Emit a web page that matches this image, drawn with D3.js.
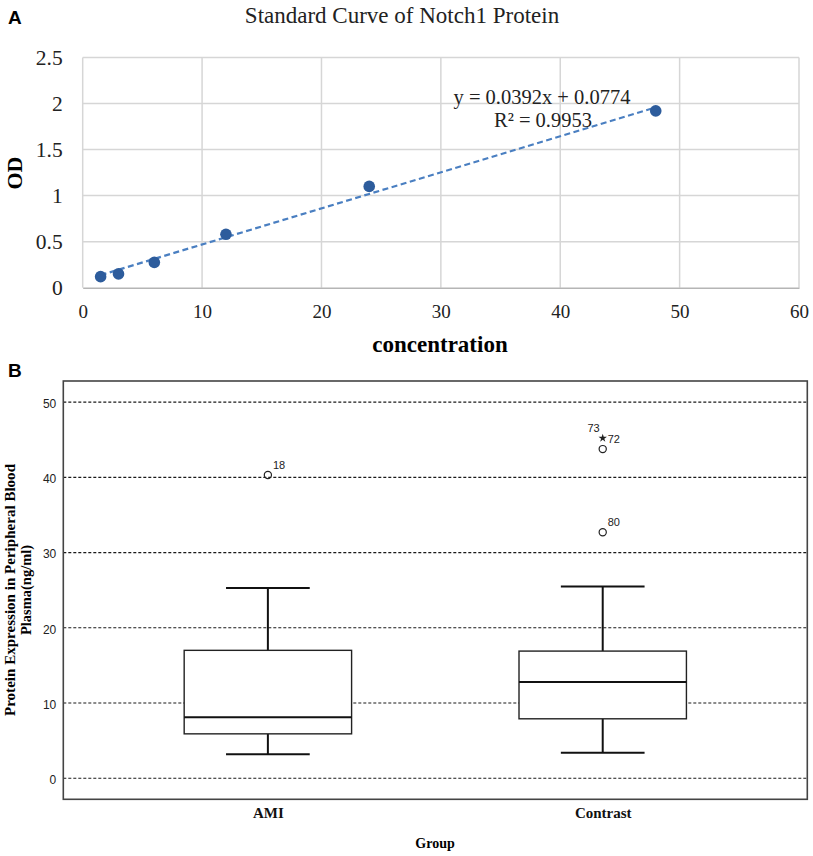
<!DOCTYPE html>
<html>
<head>
<meta charset="utf-8">
<script src="https://cdn.jsdelivr.net/npm/d3@7"></script>
<style>
  body { margin: 0; background: #fff; }
  .serif { font-family: "Liberation Serif", "Times New Roman", serif; }
  .sans { font-family: "Liberation Sans", Arial, sans-serif; }
</style>
</head>
<body>
<div id="chart"></div>
<script>
// ---- panel A data: standard curve
var concentration = [1.5, 3, 6, 12, 24, 48];
var odValues = [0.12, 0.15, 0.275, 0.58, 1.1, 1.92];
var fitSlope = 0.0392;
var fitIntercept = 0.0774;
var fitR2 = 0.9953;
var xTicksA = [0, 10, 20, 30, 40, 50, 60];
var yTicksA = [0, 0.5, 1, 1.5, 2, 2.5];

// ---- panel B data: box plot
var groups = ["AMI", "Contrast"];
var whiskerLow = [3.2, 3.4];
var q1 = [5.9, 7.9];
var median = [8.1, 12.8];
var q3 = [17.0, 16.9];
var whiskerHigh = [25.3, 25.5];
var outlierGroup = ["AMI", "Contrast", "Contrast", "Contrast"];
var outlierValue = [40.3, 32.7, 43.75, 45.2];
var outlierLabel = ["18", "80", "72", "73"];
var outlierShape = ["circle", "circle", "circle", "star"];
var yTicksB = [0, 10, 20, 30, 40, 50];

var W = 813, H = 856;
var svg = d3.select("#chart").append("svg")
  .attr("width", W)
  .attr("height", H);

// ================= Panel A =================
var xA = d3.scaleLinear().domain([0, 60]).range([82.7, 799]);
var yA = d3.scaleLinear().domain([0, 2.5]).range([287.7, 57.5]);

svg.append("text")
  .attr("class", "sans")
  .attr("x", 8).attr("y", 24)
  .style("font-size", "19px").style("font-weight", "bold")
  .text("A");

svg.append("text")
  .attr("class", "serif")
  .attr("x", 402).attr("y", 23)
  .attr("text-anchor", "middle")
  .style("font-size", "23px").attr("fill", "#222")
  .text("Standard Curve of Notch1 Protein");

// grid
svg.append("g").selectAll("line")
  .data(yTicksA.slice(1))
  .enter().append("line")
    .attr("x1", xA(0)).attr("x2", xA(60))
    .attr("y1", function(d) { return yA(d); })
    .attr("y2", function(d) { return yA(d); })
    .attr("stroke", "#d6d6d6").attr("stroke-width", 1.5);
svg.append("g").selectAll("line")
  .data(xTicksA)
  .enter().append("line")
    .attr("x1", function(d) { return xA(d); })
    .attr("x2", function(d) { return xA(d); })
    .attr("y1", yA(0)).attr("y2", yA(2.5))
    .attr("stroke", "#d6d6d6").attr("stroke-width", 1.5);

// x axis
var axA = svg.append("g")
  .attr("transform", "translate(0," + yA(0) + ")")
  .call(d3.axisBottom(xA).tickValues(xTicksA).tickSize(0).tickPadding(17));
axA.select(".domain").attr("stroke", "#b5b5b5").attr("stroke-width", 1.6);
axA.selectAll("text")
  .attr("class", "serif")
  .style("font-size", "19px").attr("fill", "#222");

var ayA = svg.append("g")
  .attr("transform", "translate(" + xA(0) + ",0)")
  .call(d3.axisLeft(yA).tickValues(yTicksA).tickSize(0).tickPadding(20)
    .tickFormat(function(d) { return d; }));
ayA.select(".domain").remove();
ayA.selectAll("text")
  .attr("class", "serif")
  .style("font-size", "21.5px").attr("fill", "#222");

// trend line
var fitX = [d3.min(concentration), d3.max(concentration)];
svg.append("line")
  .attr("x1", xA(fitX[0])).attr("y1", yA(fitSlope * fitX[0] + fitIntercept))
  .attr("x2", xA(fitX[1])).attr("y2", yA(fitSlope * fitX[1] + fitIntercept))
  .attr("stroke", "#4a7fc1").attr("stroke-width", 2.2)
  .attr("stroke-dasharray", "6,3.5");

// points
svg.append("g").selectAll("circle")
  .data(concentration)
  .enter().append("circle")
    .attr("cx", function(d) { return xA(d); })
    .attr("cy", function(d, i) { return yA(odValues[i]); })
    .attr("r", 5.8)
    .attr("fill", "#2d5c9c");

svg.append("text")
  .attr("class", "serif")
  .attr("x", 542).attr("y", 104)
  .attr("text-anchor", "middle")
  .style("font-size", "20.5px").attr("fill", "#222")
  .text("y = " + fitSlope + "x + " + fitIntercept);
svg.append("text")
  .attr("class", "serif")
  .attr("x", 543).attr("y", 127)
  .attr("text-anchor", "middle")
  .style("font-size", "20.5px").attr("fill", "#222")
  .text("R² = " + fitR2);

// axis titles
svg.append("text")
  .attr("class", "serif")
  .attr("transform", "translate(22,173) rotate(-90)")
  .attr("text-anchor", "middle")
  .style("font-size", "22px").style("font-weight", "bold")
  .text("OD");
svg.append("text")
  .attr("class", "serif")
  .attr("x", 440).attr("y", 352)
  .attr("text-anchor", "middle")
  .style("font-size", "23px").style("font-weight", "bold")
  .text("concentration");

// ================= Panel B =================
var plotL = 63.3, plotR = 807.3, plotT = 381, plotB = 799.3;
var xB = d3.scalePoint().domain(groups).range([plotL, plotR]).padding(0.611);
var yB = d3.scaleLinear().domain([-2.8, 52.8]).range([plotB, plotT]);
var step = xB.step();
var boxW = step * 0.5, capW = step * 0.25;

svg.append("text")
  .attr("class", "sans")
  .attr("x", 8).attr("y", 377)
  .style("font-size", "19px").style("font-weight", "bold")
  .text("B");

// dashed grid
svg.append("g").selectAll("line")
  .data(yTicksB)
  .enter().append("line")
    .attr("x1", plotL).attr("x2", plotR)
    .attr("y1", function(d) { return yB(d); })
    .attr("y2", function(d) { return yB(d); })
    .attr("stroke", "#1a1a1a").attr("stroke-width", 1.2)
    .attr("stroke-dasharray", "3,2");

var ayB = svg.append("g")
  .attr("transform", "translate(" + plotL + ",0)")
  .call(d3.axisLeft(yB).tickValues(yTicksB).tickSize(0).tickPadding(7));
ayB.select(".domain").remove();
ayB.selectAll("text")
  .attr("class", "sans")
  .attr("dy", "0.45em")
  .style("font-size", "12px").attr("fill", "#222");

var axB = svg.append("g")
  .attr("transform", "translate(0," + plotB + ")")
  .call(d3.axisBottom(xB).tickSize(0).tickPadding(8));
axB.select(".domain").remove();
axB.selectAll("text")
  .attr("class", "serif")
  .style("font-size", "15px").style("font-weight", "bold").attr("fill", "#111");

// boxes
var boxes = svg.append("g").selectAll("g")
  .data(groups)
  .enter().append("g");

boxes.append("line")
  .attr("x1", function(d) { return xB(d); })
  .attr("x2", function(d) { return xB(d); })
  .attr("y1", function(d, i) { return yB(whiskerHigh[i]); })
  .attr("y2", function(d, i) { return yB(q3[i]); })
  .attr("stroke", "#111").attr("stroke-width", 2);
boxes.append("line")
  .attr("x1", function(d) { return xB(d); })
  .attr("x2", function(d) { return xB(d); })
  .attr("y1", function(d, i) { return yB(q1[i]); })
  .attr("y2", function(d, i) { return yB(whiskerLow[i]); })
  .attr("stroke", "#111").attr("stroke-width", 2);
boxes.append("line")
  .attr("x1", function(d) { return xB(d) - capW / 2; })
  .attr("x2", function(d) { return xB(d) + capW / 2; })
  .attr("y1", function(d, i) { return yB(whiskerHigh[i]); })
  .attr("y2", function(d, i) { return yB(whiskerHigh[i]); })
  .attr("stroke", "#111").attr("stroke-width", 2);
boxes.append("line")
  .attr("x1", function(d) { return xB(d) - capW / 2; })
  .attr("x2", function(d) { return xB(d) + capW / 2; })
  .attr("y1", function(d, i) { return yB(whiskerLow[i]); })
  .attr("y2", function(d, i) { return yB(whiskerLow[i]); })
  .attr("stroke", "#111").attr("stroke-width", 2);
boxes.append("rect")
  .attr("x", function(d) { return xB(d) - boxW / 2; })
  .attr("width", boxW)
  .attr("y", function(d, i) { return yB(q3[i]); })
  .attr("height", function(d, i) { return yB(q1[i]) - yB(q3[i]); })
  .attr("fill", "#fff").attr("stroke", "#222").attr("stroke-width", 1.4);
boxes.append("line")
  .attr("x1", function(d) { return xB(d) - boxW / 2; })
  .attr("x2", function(d) { return xB(d) + boxW / 2; })
  .attr("y1", function(d, i) { return yB(median[i]); })
  .attr("y2", function(d, i) { return yB(median[i]); })
  .attr("stroke", "#111").attr("stroke-width", 2);

// outliers
var outs = svg.append("g").selectAll("g")
  .data(outlierValue)
  .enter().append("g")
    .attr("transform", function(d, i) {
      return "translate(" + xB(outlierGroup[i]) + "," + yB(d) + ")";
    });
outs.filter(function(d, i) { return outlierShape[i] == "circle"; })
  .append("circle")
    .attr("r", 3.6)
    .attr("fill", "none").attr("stroke", "#222").attr("stroke-width", 1.2);
outs.filter(function(d, i) { return outlierShape[i] == "star"; })
  .append("path")
    .attr("d", d3.symbol().type(d3.symbolStar).size(22))
    .attr("fill", "#222");
outs.append("text")
  .attr("class", "sans")
  .attr("x", function(d, i) { return outlierShape[i] == "star" ? -3 : 5; })
  .attr("y", -6.5)
  .attr("text-anchor", function(d, i) { return outlierShape[i] == "star" ? "end" : "start"; })
  .style("font-size", "11px").attr("fill", "#222")
  .text(function(d, i) { return outlierLabel[i]; });

// frame
svg.append("rect")
  .attr("x", plotL).attr("y", plotT)
  .attr("width", plotR - plotL).attr("height", plotB - plotT)
  .attr("fill", "none").attr("stroke", "#444").attr("stroke-width", 1.6);

// titles
svg.append("text")
  .attr("class", "serif")
  .attr("x", 435).attr("y", 848)
  .attr("text-anchor", "middle")
  .style("font-size", "14px").style("font-weight", "bold")
  .text("Group");
svg.append("text")
  .attr("class", "serif")
  .attr("transform", "translate(15,590) rotate(-90)")
  .attr("text-anchor", "middle")
  .attr("textLength", 252).attr("lengthAdjust", "spacing")
  .style("font-size", "15px").style("font-weight", "bold")
  .text("Protein Expression in Peripheral Blood");
svg.append("text")
  .attr("class", "serif")
  .attr("transform", "translate(30.5,590) rotate(-90)")
  .attr("text-anchor", "middle")
  .style("font-size", "14.5px").style("font-weight", "bold")
  .text("Plasma(ng/ml)");
</script>
</body>
</html>
